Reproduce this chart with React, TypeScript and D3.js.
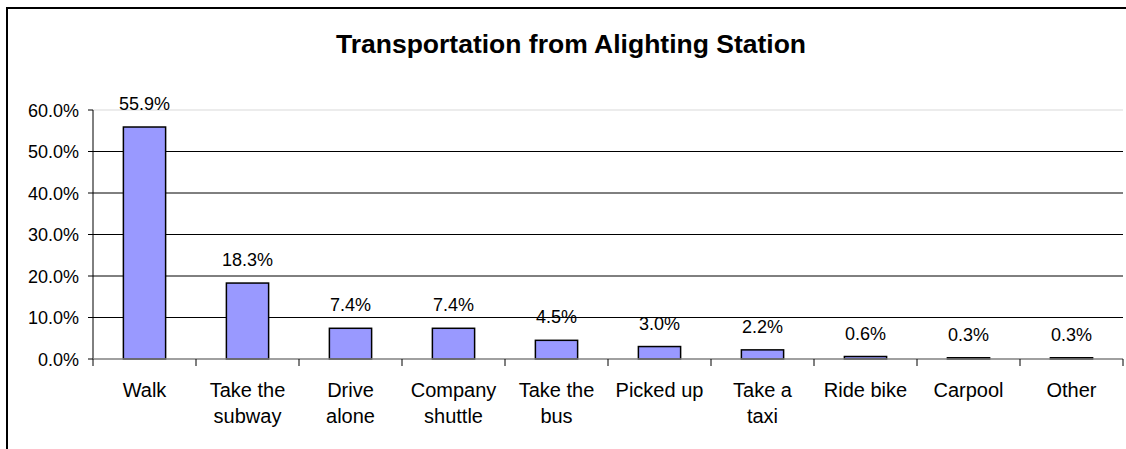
import React from 'react';
import * as d3 from 'd3';

const categories = [
  ['Walk'],
  ['Take the', 'subway'],
  ['Drive', 'alone'],
  ['Company', 'shuttle'],
  ['Take the', 'bus'],
  ['Picked up'],
  ['Take a', 'taxi'],
  ['Ride bike'],
  ['Carpool'],
  ['Other'],
];
const values = [55.9, 18.3, 7.4, 7.4, 4.5, 3.0, 2.2, 0.6, 0.3, 0.3];
const yTicks = [0, 10, 20, 30, 40, 50, 60];

const W = 1126;
const H = 449;
const plot = { left: 93, right: 1123, top: 110, bottom: 359 };
const font = '"Liberation Sans", Arial, sans-serif';

export default function App() {
  const x = d3
    .scaleBand<number>()
    .domain(d3.range(values.length))
    .range([plot.left, plot.right])
    .paddingInner(0.59)
    .paddingOuter(0.295);
  const step = (plot.right - plot.left) / values.length;
  const y = d3.scaleLinear().domain([0, 60]).range([plot.bottom, plot.top]);
  const cx = (i: number) => (x(i) as number) + x.bandwidth() / 2;

  return (
    <svg
      width={W}
      height={H}
      style={{ position: 'absolute', left: 0, top: 0, background: '#fff' }}
      fontFamily={font}
    >
      <rect x={7} y={8} width={W + 10} height={H + 10} fill="#fff" stroke="#000" strokeWidth={2} />
      <text x={571} y={53} textAnchor="middle" fontSize={26.5} fontWeight="bold" fill="#000">
        Transportation from Alighting Station
      </text>

      {/* gridlines */}
      {yTicks.filter(t => t > 0).map(t => (
        <line
          key={t}
          x1={plot.left}
          x2={plot.right}
          y1={y(t)}
          y2={y(t)}
          stroke={t === 60 ? '#d9d9d9' : '#000'}
          strokeWidth={1}
        />
      ))}

      {/* y axis */}
      <line x1={plot.left} x2={plot.left} y1={plot.top} y2={plot.bottom} stroke="#000" />
      {yTicks.map(t => (
        <g key={t}>
          <line x1={plot.left - 5} x2={plot.left} y1={y(t)} y2={y(t)} stroke="#000" />
          <text x={79} y={y(t) + 6.5} textAnchor="end" fontSize={18} fill="#000">
            {t.toFixed(1)}%
          </text>
        </g>
      ))}

      {/* bars */}
      {values.map((v, i) => (
        <g key={i}>
          <rect
            x={x(i)}
            y={y(v)}
            width={x.bandwidth()}
            height={plot.bottom - y(v)}
            fill="#9999ff"
            stroke="#000"
            strokeWidth={1.5}
          />
          <text x={cx(i)} y={y(v) - 17} textAnchor="middle" fontSize={18} fill="#000">
            {v.toFixed(1)}%
          </text>
        </g>
      ))}

      {/* x axis */}
      <line x1={plot.left} x2={plot.right} y1={plot.bottom} y2={plot.bottom} stroke="#808080" strokeWidth={1.5} />
      {d3.range(values.length + 1).map(i => (
        <line
          key={i}
          x1={plot.left + i * step}
          x2={plot.left + i * step}
          y1={plot.bottom}
          y2={plot.bottom + 7}
          stroke="#000"
        />
      ))}
      {categories.map((lines, i) => (
        <text key={i} x={cx(i)} y={397} textAnchor="middle" fontSize={20} fill="#000">
          {lines.map((l, j) => (
            <tspan key={j} x={cx(i)} dy={j === 0 ? 0 : 26}>
              {l}
            </tspan>
          ))}
        </text>
      ))}
    </svg>
  );
}
